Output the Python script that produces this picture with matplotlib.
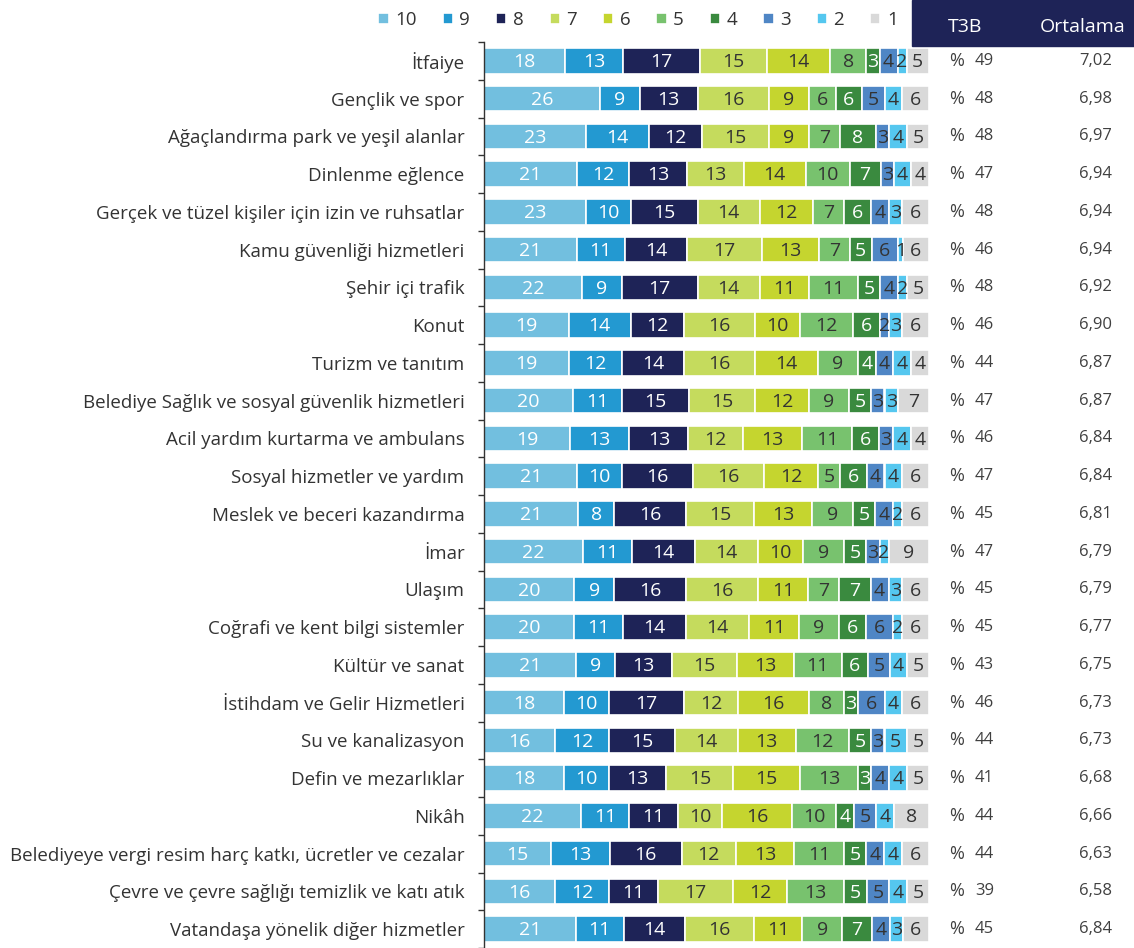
import numpy as np
import matplotlib.pyplot as plt
from matplotlib.patches import Rectangle
from matplotlib.transforms import blended_transform_factory

plt.rcParams['font.family'] = ['Open Sans', 'DejaVu Sans']

categories = [
    "İtfaiye", "Gençlik ve spor", "Ağaçlandırma park ve yeşil alanlar",
    "Dinlenme eğlence", "Gerçek ve tüzel kişiler için izin ve ruhsatlar",
    "Kamu güvenliği hizmetleri", "Şehir içi trafik", "Konut",
    "Turizm ve tanıtım", "Belediye Sağlık ve sosyal güvenlik hizmetleri",
    "Acil yardım kurtarma ve ambulans", "Sosyal hizmetler ve yardım",
    "Meslek ve beceri kazandırma", "İmar", "Ulaşım",
    "Coğrafi ve kent bilgi sistemler", "Kültür ve sanat",
    "İstihdam ve Gelir Hizmetleri", "Su ve kanalizasyon",
    "Defin ve mezarlıklar", "Nikâh",
    "Belediyeye vergi resim harç katkı, ücretler ve cezalar",
    "Çevre ve çevre sağlığı temizlik ve katı atık",
    "Vatandaşa yönelik diğer hizmetler",
]

score_labels = ["10", "9", "8", "7", "6", "5", "4", "3", "2", "1"]

# rows: share of answers for scores 10 .. 1
shares = [
    [18, 13, 17, 15, 14, 8, 3, 4, 2, 5],
    [26, 9, 13, 16, 9, 6, 6, 5, 4, 6],
    [23, 14, 12, 15, 9, 7, 8, 3, 4, 5],
    [21, 12, 13, 13, 14, 10, 7, 3, 4, 4],
    [23, 10, 15, 14, 12, 7, 6, 4, 3, 6],
    [21, 11, 14, 17, 13, 7, 5, 6, 1, 6],
    [22, 9, 17, 14, 11, 11, 5, 4, 2, 5],
    [19, 14, 12, 16, 10, 12, 6, 2, 3, 6],
    [19, 12, 14, 16, 14, 9, 4, 4, 4, 4],
    [20, 11, 15, 15, 12, 9, 5, 3, 3, 7],
    [19, 13, 13, 12, 13, 11, 6, 3, 4, 4],
    [21, 10, 16, 16, 12, 5, 6, 4, 4, 6],
    [21, 8, 16, 15, 13, 9, 5, 4, 2, 6],
    [22, 11, 14, 14, 10, 9, 5, 3, 2, 9],
    [20, 9, 16, 16, 11, 7, 7, 4, 3, 6],
    [20, 11, 14, 14, 11, 9, 6, 6, 2, 6],
    [21, 9, 13, 15, 13, 11, 6, 5, 4, 5],
    [18, 10, 17, 12, 16, 8, 3, 6, 4, 6],
    [16, 12, 15, 14, 13, 12, 5, 3, 5, 5],
    [18, 10, 13, 15, 15, 13, 3, 4, 4, 5],
    [22, 11, 11, 10, 16, 10, 4, 5, 4, 8],
    [15, 13, 16, 12, 13, 11, 5, 4, 4, 6],
    [16, 12, 11, 17, 12, 13, 5, 5, 4, 5],
    [21, 11, 14, 16, 11, 9, 7, 4, 3, 6],
]

t3b = [49, 48, 48, 47, 48, 46, 48, 46, 44, 47, 46, 47,
       45, 47, 45, 45, 43, 46, 44, 41, 44, 44, 39, 45]
ortalama = ["7,02", "6,98", "6,97", "6,94", "6,94", "6,94", "6,92", "6,90",
            "6,87", "6,87", "6,84", "6,84", "6,81", "6,79", "6,79", "6,77",
            "6,75", "6,73", "6,73", "6,68", "6,66", "6,63", "6,58", "6,84"]

colors = ["#72BFDF", "#2399D1", "#1E2357", "#C5DB5D", "#C5D52F",
          "#78C26E", "#3A8A3F", "#4F86C5", "#55C7EF", "#D9D9D9"]
text_colors = ["white", "white", "white", "#333333", "#333333",
               "#333333", "white", "#333333", "#333333", "#333333"]

W, H = 1134, 948
fig = plt.figure(figsize=(W / 100, H / 100), dpi=100)
ax = fig.add_axes([484 / W, 0, 445 / W, 1 - 42 / H])

data = np.array(shares, dtype=float)
norm = data / data.sum(axis=1, keepdims=True) * 100
y = np.arange(len(categories))

left = np.zeros(len(categories))
for j in range(len(score_labels)):
    ax.barh(y, norm[:, j], left=left, height=0.67, color=colors[j],
            edgecolor="white", linewidth=1.2, label=score_labels[j])
    for i in range(len(categories)):
        ax.text(left[i] + norm[i, j] / 2, y[i] + 0.03, str(shares[i][j]),
                ha="center", va="center", fontsize=14, color=text_colors[j])
    left += norm[:, j]

ax.set_xlim(0, 100)
ax.set_ylim(len(categories) - 0.5, -0.5)
ax.set_xticks([])
ax.set_yticks(y)
ax.set_yticklabels(categories, fontsize=13.5, color="#333333")
ax.set_yticks(np.arange(-0.5, len(categories), 1), minor=True)
ax.tick_params(axis="y", which="major", length=0, pad=14)
ax.tick_params(axis="y", which="minor", length=4, width=1, color="#333333")
for s in ["top", "right", "bottom"]:
    ax.spines[s].set_visible(False)
ax.spines["left"].set_color("#333333")
ax.spines["left"].set_linewidth(1)

# right-hand table
tr = blended_transform_factory(fig.transFigure, ax.transData)
for i in range(len(categories)):
    ax.text(949 / W, y[i], "%", transform=tr, ha="left", va="center",
            fontsize=13, color="#404040")
    ax.text(975 / W, y[i], str(t3b[i]), transform=tr, ha="left", va="center",
            fontsize=12, color="#404040")
    ax.text(1112 / W, y[i], ortalama[i], transform=tr, ha="right", va="center",
            fontsize=12, color="#404040")

fig.patches.append(Rectangle((912 / W, 1 - 46 / H), (W - 912) / W, 46 / H,
                             transform=fig.transFigure, color="#1E2357",
                             zorder=0))
fig.text(965 / W, 1 - 27 / H, "T3B", ha="center", va="center",
         fontsize=14, color="white")
fig.text(1083 / W, 1 - 27 / H, "Ortalama", ha="center", va="center",
         fontsize=14, color="white")

fig.legend(loc="center", bbox_to_anchor=(638 / W, 1 - 20 / H), ncol=10,
           frameon=False, handlelength=0.55, handleheight=0.55,
           handletextpad=0.35, columnspacing=1.38, fontsize=13.5,
           labelcolor="#333333")

fig.savefig("out.png", dpi=100)
